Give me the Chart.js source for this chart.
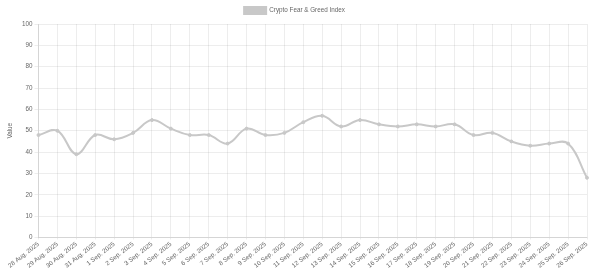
<!DOCTYPE html>
<html lang="en">
<head>
    <meta charset="UTF-8">
    <title>Crypto Fear & Greed Index</title>
    <style>
        html, body { margin: 0; padding: 0; background: #fff; }
    </style>
</head>
<body>

    <canvas id="myChart" width="600" height="272"></canvas>

    <script src="https://cdn.jsdelivr.net/npm/chart.js"></script>

    <script>
        const ctx = document.getElementById('myChart');

        // Data
        const title = "Crypto Fear & Greed Index";
        const days = [
            "28 Aug. 2025", "29 Aug. 2025", "30 Aug. 2025", "31 Aug. 2025",
            "1 Sep. 2025", "2 Sep. 2025", "3 Sep. 2025", "4 Sep. 2025",
            "5 Sep. 2025", "6 Sep. 2025", "7 Sep. 2025", "8 Sep. 2025",
            "9 Sep. 2025", "10 Sep. 2025", "11 Sep. 2025", "12 Sep. 2025",
            "13 Sep. 2025", "14 Sep. 2025", "15 Sep. 2025", "16 Sep. 2025",
            "17 Sep. 2025", "18 Sep. 2025", "19 Sep. 2025", "20 Sep. 2025",
            "21 Sep. 2025", "22 Sep. 2025", "23 Sep. 2025", "24 Sep. 2025",
            "25 Sep. 2025", "26 Sep. 2025"
        ];
        const values = [
            48, 50, 39, 48, 46, 49, 55, 51, 48, 48,
            44, 51, 48, 49, 54, 57, 52, 55, 53, 52,
            53, 52, 53, 48, 49, 45, 43, 44, 44, 28
        ];

        const grey = 'rgb(200, 200, 200)';
        const tickFont = { family: 'Helvetica, Arial, sans-serif', size: 6.3 };

        new Chart(ctx, {
            type: 'line',
            data: {
                labels: days,
                datasets: [{
                    label: title,
                    data: values,
                    borderColor: grey,
                    backgroundColor: grey,
                    borderWidth: 2,
                    pointRadius: 1.5,
                    pointBorderWidth: 1,
                    pointBackgroundColor: grey,
                    tension: 0.4
                }]
            },
            options: {
                responsive: false,
                animation: false,
                layout: { padding: { right: 13, top: 1, left: 2, bottom: 0 } },
                plugins: {
                    legend: {
                        labels: {
                            boxWidth: 22,
                            boxHeight: 7,
                            color: '#666',
                            font: tickFont,
                            padding: 6
                        }
                    },
                    tooltip: { enabled: false }
                },
                scales: {
                    x: {
                        grid: { color: 'rgba(0,0,0,0.07)', tickLength: 2 },
                        ticks: {
                            color: '#666',
                            font: tickFont,
                            padding: 1,
                            minRotation: 38,
                            maxRotation: 38,
                            autoSkip: false
                        },
                        afterFit: (scale) => { scale.height = 34.5; }
                    },
                    y: {
                        min: 0,
                        max: 100,
                        grid: { color: 'rgba(0,0,0,0.07)', tickLength: 4 },
                        ticks: { stepSize: 10, color: '#666', font: tickFont, padding: 2 },
                        title: { display: true, text: 'Value', color: '#666', font: tickFont },
                        afterFit: (scale) => { scale.width = 36.5; }
                    }
                }
            }
        });
    </script>

</body>
</html>
